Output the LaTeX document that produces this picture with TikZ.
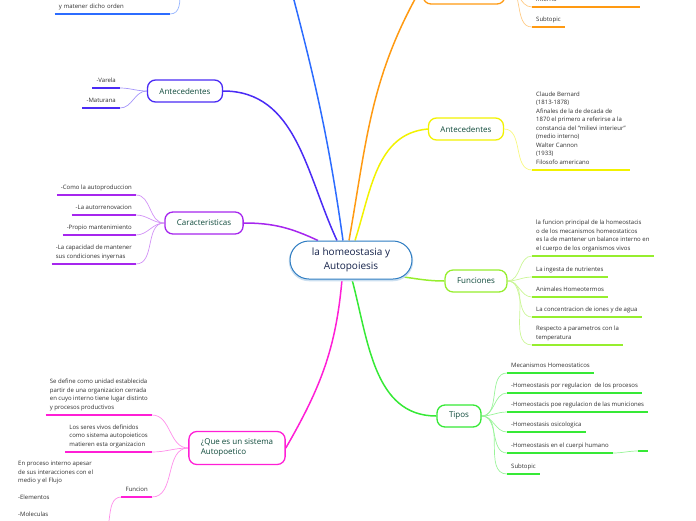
\documentclass[tikz,border=0pt]{standalone}
\usepackage{fontspec}
\setmainfont{Open Sans}
\usetikzlibrary{backgrounds}

\definecolor{cblue}{HTML}{2C6CFF}
\definecolor{cindigo}{HTML}{4A2BF5}
\definecolor{cpurple}{HTML}{A626EE}
\definecolor{cmagenta}{HTML}{FF1FD6}
\definecolor{corange}{HTML}{FF9A12}
\definecolor{cyellow}{HTML}{F2F200}
\definecolor{clime}{HTML}{96EE2E}
\definecolor{cgreen}{HTML}{36E936}
\definecolor{ccenter}{HTML}{2F7DC2}
\definecolor{ctitle}{HTML}{15224A}
\definecolor{ctopic}{HTML}{0F4A3B}
\definecolor{ctext}{HTML}{2E2E2E}

\begin{document}
\begin{tikzpicture}[x=1pt, y=-1pt,
  topic/.style={draw=#1, line width=1.3pt, rounded corners=8pt, fill=white,
    minimum height=22pt, inner xsep=12pt, text=ctopic, font=\fontsize{8}{10}\selectfont},
  leaf/.style={inner xsep=4pt, inner ysep=4pt, text depth=1.5pt, text=ctext,
    font=\fontsize{6}{8.5}\selectfont,
    append after command={(\tikzlastnode.south west) edge[draw=#1, line width=1.8pt] (\tikzlastnode.south east)}},
  link/.style={draw=#1, line width=1.5pt},
  twig/.style={draw=#1!50, line width=0.7pt}]
  \useasboundingbox (0,0) rectangle (696,520);
  \clip (0,0) rectangle (696,520);

  \node[draw=ccenter, line width=1pt, rounded corners=19pt, fill=white, minimum width=122pt,
    minimum height=38pt, align=center, text=ctitle, font=\fontsize{10}{14}\selectfont,
    preaction={draw=ccenter!25, line width=2.5pt, transform canvas={yshift=-1pt}}]
    (home) at (351,260) {la homeostasia y\\Autopoiesis};

  % temas
  \coordinate (azulE) at (282,-45);
  \coordinate (azulW) at (190,-35);
  \node[topic=cindigo] (antl) at (185,91) {Antecedentes};
  \node[topic=cpurple] (cara) at (204,223) {Caracteristicas};
  \node[topic=cmagenta, align=left, minimum height=33pt] (sist) at (237,448) {¿Que es un sistema\\Autopoetico};
  \node[topic=corange, minimum width=82pt, minimum height=36pt] (naranja) at (464,-14) {};
  \node[topic=cyellow] (antr) at (466,129) {Antecedentes};
  \node[topic=clime] (func) at (476,281) {Funciones};
  \node[topic=cgreen] (tipos) at (459,416) {Tipos};

  \node[leaf=cblue, anchor=south east, text width=107pt, align=left] (orden) at (170,14) {y matener dicho orden};

  \node[leaf=cindigo, anchor=south east] (varela) at (120,88) {-Varela};
  \node[leaf=cindigo, anchor=south east] (maturana) at (120,108) {-Maturana};

  \node[leaf=cpurple, anchor=south east] (c1) at (136,195) {-Como la autoproduccion};
  \node[leaf=cpurple, anchor=south east] (c2) at (136,215) {-La autorrenovacion};
  \node[leaf=cpurple, anchor=south east] (c3) at (136,235) {-Propio mantenimiento};
  \node[leaf=cpurple, anchor=south east, align=left] (c4) at (136,264) {-La capacidad de mantener\\sus condiciones inyernas};

  \node[leaf=cmagenta, anchor=south east, align=left] (s1) at (152,415) {Se define como unidad establecida\\partir de una organizacion cerrada\\en cuyo interno tiene lugar distinto\\y procesos productivos};
  \node[leaf=cmagenta, anchor=south east, align=left] (s2) at (152,452) {Los seres vivos definidos\\como sistema autopoieticos\\matieren esta organizacion};
  \node[leaf=cmagenta, anchor=south east] (s3) at (152,497) {Funcion};
  \node[leaf=cmagenta, anchor=north west, align=left] (s4) at (14,457) {En proceso interno apesar\\de sus interacciones con el\\medio y el Flujo\\[8.5pt]-Elementos\\[8.5pt]-Moleculas\\[8.5pt]};

  \node[leaf=corange, anchor=south west, text width=100pt, align=left] (interno) at (532,7) {interno};
  \node[leaf=corange, anchor=south west] (subo) at (532,27) {Subtopic};

  \node[leaf=cyellow, anchor=south west, align=left] (bernard) at (532,170) {Claude Bernard\\(1813-1878)\\Afinales de la de decada de\\1870 el primero a referirse a la\\constancia del "milievi interieur"\\(medio interno)\\Walter Cannon\\(1933)\\Filosofo americano};

  \node[leaf=clime, anchor=south west, align=left] (f1) at (532,256) {la funcion principal de la homeostacis\\o de los mecanismos homeostaticos\\es la de mantener un balance interno en\\el cuerpo de los organismos vivos};
  \node[leaf=clime, anchor=south west] (f2) at (532,277) {La ingesta de nutrientes};
  \node[leaf=clime, anchor=south west] (f3) at (532,297) {Animales Homeotermos};
  \node[leaf=clime, anchor=south west] (f4) at (532,317) {La concentracion de iones y de agua};
  \node[leaf=clime, anchor=south west, align=left] (f5) at (532,345) {Respecto a parametros con la\\temperatura};

  \node[leaf=cgreen, anchor=south west] (t1) at (507,373) {Mecanismos Homeostaticos};
  \node[leaf=cgreen, anchor=south west] (t2) at (507,393) {-Homeostasis por regulacion\ \ de los procesos};
  \node[leaf=cgreen, anchor=south west] (t3) at (507,412) {-Homeostacis poe regulacion de las municiones};
  \node[leaf=cgreen, anchor=south west] (t4) at (507,432) {-Homeostasis osicologica};
  \node[leaf=cgreen, anchor=south west] (t5) at (507,453) {-Homeostasis en el cuerpi humano};
  \node[leaf=cgreen, anchor=south west, minimum width=10pt] (t5b) at (638,451) {};
  \node[leaf=cgreen, anchor=south west] (t6) at (507,474) {Subtopic};

  \begin{scope}[on background layer]
    \clip (0,0) rectangle (696,520);
    \draw[link=cblue] ([xshift=-8pt]home.north) to[out=98,in=-75] (azulE);
    \draw[link=cindigo] ([xshift=-14pt]home.north) to[out=115,in=0] (antl.east);
    \draw[link=cpurple] ([xshift=-33pt]home.north) to[out=155,in=0] (cara.east);
    \draw[link=cmagenta] ([xshift=-9pt]home.south) to[out=-95,in=60] (sist.east);
    \draw[link=corange] ([xshift=-2pt]home.north) to[out=80,in=240] (naranja.west);
    \draw[link=cyellow] ([xshift=4pt]home.north) to[out=72,in=185] (antr.west);
    \draw[link=clime] ([xshift=-22pt,yshift=4pt]home.south east) to[out=-5,in=180] (func.west);
    \draw[link=cgreen] ([xshift=1pt]home.south) to[out=-75,in=180] (tipos.west);

    \draw[twig=cblue] (orden.south east) to[out=0,in=180] (azulW);
    \foreach \n in {varela,maturana}
      \draw[twig=cindigo] (antl.west) to[out=180,in=0] (\n.south east);
    \foreach \n in {c1,c2,c3,c4}
      \draw[twig=cpurple] (cara.west) to[out=180,in=0] (\n.south east);
    \foreach \n in {s1,s2,s3}
      \draw[twig=cmagenta] (sist.west) to[out=180,in=0] (\n.south east);
    \draw[twig=cmagenta] (s3.south west) to[out=180,in=0] (s4.south east);
    \foreach \n in {interno,subo}
      \draw[twig=corange] (naranja.east) to[out=0,in=180] (\n.south west);
    \draw[twig=cyellow] (antr.east) to[out=0,in=180] (bernard.south west);
    \foreach \n in {f1,f2,f3,f4,f5}
      \draw[twig=clime] (func.east) to[out=0,in=180] (\n.south west);
    \foreach \n in {t1,t2,t3,t4,t5,t6}
      \draw[twig=cgreen] (tipos.east) to[out=0,in=180] (\n.south west);
    \draw[twig=cgreen] (t5.south east) to[out=0,in=180] (t5b.south west);
  \end{scope}
\end{tikzpicture}
\end{document}
